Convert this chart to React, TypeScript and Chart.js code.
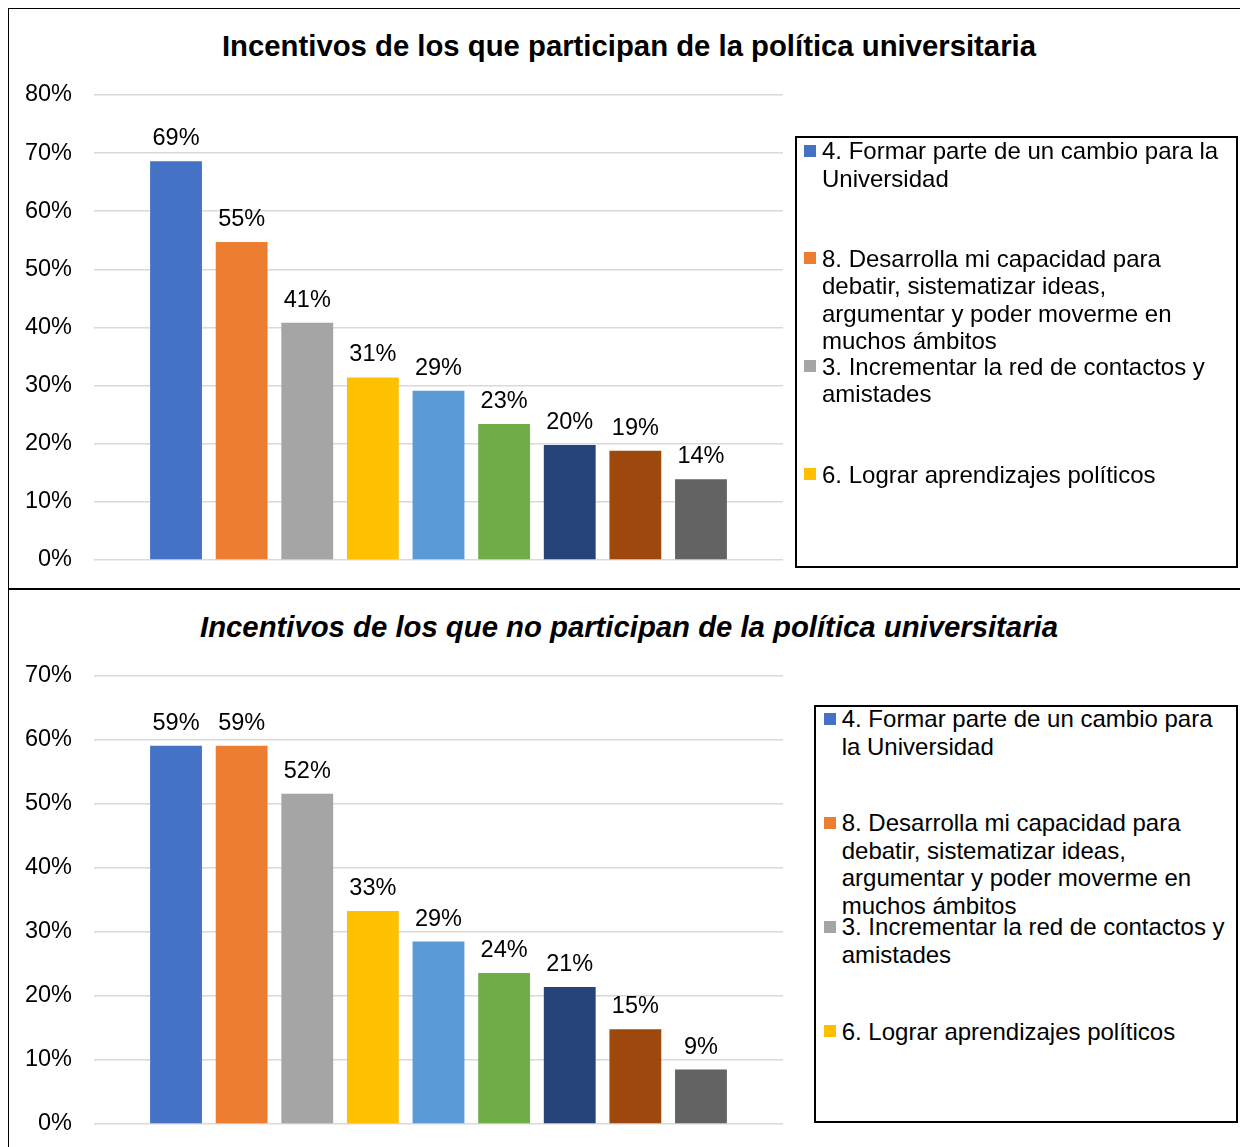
import React, { useEffect, useRef } from "react";
import { Chart, registerables } from "chart.js";

Chart.register(...registerables);

// ---- data ----
const legendLabels = [
  "4. Formar parte de un cambio para la Universidad",
  "8. Desarrolla mi capacidad para debatir, sistematizar ideas, argumentar y poder moverme en muchos ámbitos",
  "3. Incrementar la red de contactos y amistades",
  "6. Lograr aprendizajes políticos",
];
const barColors = [
  "#4472C4",
  "#ED7D31",
  "#A5A5A5",
  "#FFC000",
  "#5B9BD5",
  "#70AD47",
  "#264478",
  "#9E480E",
  "#636363",
];
const participanValues = [68.6, 54.7, 40.8, 31.4, 29.1, 23.4, 19.8, 18.8, 13.9];
const noParticipanValues = [59.1, 59.1, 51.6, 33.3, 28.5, 23.6, 21.4, 14.8, 8.5];
const topTitle = "Incentivos de los que participan de la política universitaria";
const bottomTitle = "Incentivos de los que no participan de la política universitaria";
const topAxisMax = 80;
const bottomAxisMax = 70;
const axisStep = 10;

const FONT = '"Liberation Sans", Arial, sans-serif';

const valueLabelPlugin = {
  id: "valueLabels",
  afterDatasetsDraw(chart: any) {
    const ctx = chart.ctx;
    ctx.save();
    ctx.font = `23.5px ${FONT}`;
    ctx.fillStyle = "#000";
    ctx.textAlign = "center";
    ctx.textBaseline = "alphabetic";
    chart.data.datasets.forEach((ds: any, di: number) => {
      const meta = chart.getDatasetMeta(di);
      meta.data.forEach((bar: any, i: number) => {
        const v = ds.data[i].y;
        ctx.fillText(Math.round(v) + "%", bar.x, bar.y - 16);
      });
    });
    ctx.restore();
  },
};

function BarCanvas(props: {
  values: number[];
  max: number;
  width: number;
  height: number;
  padTop: number;
  padBottom: number;
  padRight: number;
}) {
  const ref = useRef<HTMLCanvasElement | null>(null);
  useEffect(() => {
    if (!ref.current) return;
    const chart = new Chart(ref.current, {
      type: "bar",
      data: {
        datasets: [
          {
            data: props.values.map((v, i) => ({ x: i, y: v })),
            backgroundColor: barColors,
            borderWidth: 0,
            barPercentage: 0.79,
            categoryPercentage: 1,
          },
        ],
      },
      options: {
        responsive: false,
        animation: false,
        devicePixelRatio: 1,
        layout: {
          padding: { top: props.padTop, bottom: props.padBottom, right: props.padRight, left: 0 },
        },
        plugins: {
          legend: { display: false },
          title: { display: false },
          tooltip: { enabled: false },
        },
        scales: {
          x: {
            type: "linear",
            offset: false,
            min: -1.25,
            max: props.values.length + 0.25,
            display: false,
          },
          y: {
            min: 0,
            max: props.max,
            ticks: {
              stepSize: axisStep,
              callback: (v: any) => v + "%",
              color: "#000",
              font: { family: FONT, size: 23.5 },
              padding: 22,
            },
            grid: {
              color: "#d9d9d9",
              lineWidth: 1.6,
              drawTicks: false,
            },
            border: { display: false },
            afterFit: (scale: any) => {
              scale.width = 85;
              scale.paddingTop = 0;
              scale.paddingBottom = 0;
            },
          },
        },
      } as any,
      plugins: [valueLabelPlugin],
    });
    return () => chart.destroy();
  }, []);
  return (
    <canvas
      ref={ref}
      width={props.width}
      height={props.height}
      style={{ width: props.width, height: props.height, display: "block" }}
    />
  );
}

function Legend(props: {
  left: number;
  top: number;
  width: number;
  height: number;
  markerLeft: number;
  textLeft: number;
  textWidth: number;
  firstTop: number;
  step: number;
}) {
  return (
    <div
      style={{
        position: "absolute",
        left: props.left,
        top: props.top,
        width: props.width,
        height: props.height,
        border: "2px solid #000",
        boxSizing: "border-box",
        fontFamily: FONT,
        fontSize: 24,
        lineHeight: "27.5px",
        color: "#000",
      }}
    >
      {legendLabels.map((label, i) => {
        const top = props.firstTop + i * props.step;
        return (
          <React.Fragment key={i}>
            <div
              style={{
                position: "absolute",
                left: props.markerLeft,
                top: top + 7.5,
                width: 12,
                height: 12,
                background: barColors[i],
              }}
            />
            <div
              style={{
                position: "absolute",
                left: props.textLeft,
                top: top,
                width: props.textWidth,
                whiteSpace: "normal",
              }}
            >
              {label}
            </div>
          </React.Fragment>
        );
      })}
    </div>
  );
}

function Title(props: { text: string; italic?: boolean; top: number }) {
  return (
    <div
      style={{
        position: "absolute",
        left: 2,
        right: 0,
        top: props.top,
        textAlign: "center",
        fontFamily: FONT,
        fontWeight: "bold",
        fontStyle: props.italic ? "italic" : "normal",
        fontSize: 29.3,
        lineHeight: "34px",
        color: "#000",
        whiteSpace: "nowrap",
      }}
    >
      {props.text}
    </div>
  );
}

export default function App() {
  return (
    <div
      style={{
        position: "relative",
        left: -1,
        top: -1,
        width: 1241,
        height: 1140,
        overflow: "hidden",
      }}
    >
      <div
        style={{
          position: "absolute",
          left: 0,
          top: 0,
          width: 1242,
          height: 583,
          border: "2px solid #000",
          boxSizing: "border-box",
          background: "#fff",
        }}
      >
        <Title text={topTitle} top={19.5} />
        <div style={{ position: "absolute", left: 0, top: 70 }}>
          <BarCanvas
            values={participanValues}
            max={topAxisMax}
            width={790}
            height={500}
            padTop={16}
            padBottom={19}
            padRight={16}
          />
        </div>
        <Legend
          left={786}
          top={127}
          width={443}
          height={432}
          markerLeft={7}
          textLeft={25}
          textWidth={410}
          firstTop={-1}
          step={107.9}
        />
      </div>
      <div
        style={{
          position: "absolute",
          left: 0,
          top: 581,
          width: 1242,
          height: 600,
          border: "2px solid #000",
          boxSizing: "border-box",
          background: "#fff",
        }}
      >
        <Title text={bottomTitle} italic top={20.1} />
        <div style={{ position: "absolute", left: 0, top: 70 }}>
          <BarCanvas
            values={noParticipanValues}
            max={bottomAxisMax}
            width={790}
            height={480}
            padTop={16}
            padBottom={16}
            padRight={16}
          />
        </div>
        <Legend
          left={805}
          top={115}
          width={424}
          height={418}
          markerLeft={8}
          textLeft={25.7}
          textWidth={390}
          firstTop={-2}
          step={104.2}
        />
      </div>
    </div>
  );
}
